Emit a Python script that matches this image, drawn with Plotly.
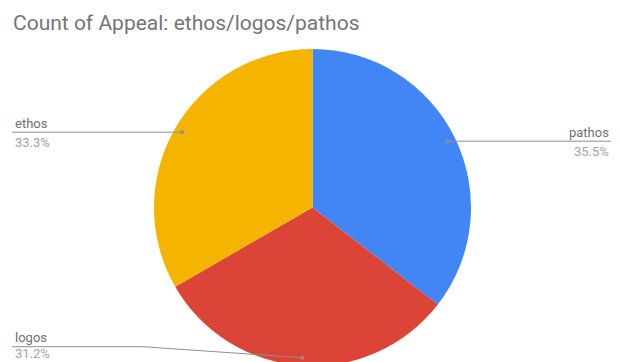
import math
import plotly.graph_objects as go

# ---- data ----
labels = ["pathos", "logos", "ethos"]
counts = [33, 29, 31]
colors = ["#4285F4", "#DB4437", "#F4B400"]
title_text = "Count of Appeal: ethos/logos/pathos"

# ---- layout constants (page pixels) ----
OFF = 8                      # default body margin of the html page
W, H = 619 - OFF, 366 - OFF  # figure size
PIE_TOP = 49
PIE_BOTTOM = 366
R = (PIE_BOTTOM - PIE_TOP) / 2
CX, CY = 312.5, PIE_TOP + R
DOT_FRAC = 0.95
LEFT_X, RIGHT_X = 12, 612
LOGOS_ROW_Y = 346.7
LOGOS_ELBOW_X = 143
LINE_COLOR = "#8f8f8f"
NAME_COLOR = "#6f6f6f"
PCT_COLOR = "#a3a3a3"
FONT = "Roboto"


def px(x, y):
    return (x - OFF) / W, 1 - (y - OFF) / H


total = sum(counts)
fig = go.Figure(go.Pie(
    labels=labels, values=counts, sort=False, direction="clockwise", rotation=0,
    marker=dict(colors=colors, line=dict(width=0)), textinfo="none",
    hoverinfo="label+percent", showlegend=False,
    domain=dict(x=[px(CX - R, 0)[0], px(CX + R, 0)[0]],
                y=[px(0, PIE_BOTTOM)[1], px(0, PIE_TOP)[1]]),
))

shapes, annotations = [], []
cum = 0
for name, v in zip(labels, counts):
    frac = v / total
    mid = (cum + frac / 2) * 2 * math.pi
    cum += frac
    dx = CX + DOT_FRAC * R * math.sin(mid)
    dy = CY - DOT_FRAC * R * math.cos(mid)
    pct = f"{frac * 100:.1f}%"
    d = px(dx, dy)
    if math.sin(mid) > 0:
        row_y = dy
        e = px(RIGHT_X, row_y)
        path = f"M {d[0]},{d[1]} L {e[0]},{e[1]}"
        tx, anchor = RIGHT_X - 1, "right"
    else:
        if math.cos(mid) < -0.9:  # bottom slice: elbowed leader line
            row_y = LOGOS_ROW_Y
            s, m = px(LEFT_X, row_y), px(LOGOS_ELBOW_X, row_y)
            path = f"M {s[0]},{s[1]} L {m[0]},{m[1]} L {d[0]},{d[1]}"
        else:
            row_y = dy
            s = px(LEFT_X, row_y)
            path = f"M {s[0]},{s[1]} L {d[0]},{d[1]}"
        tx, anchor = LEFT_X + 1, "left"
    shapes.append(dict(type="path", xref="paper", yref="paper", path=path,
                       line=dict(color=LINE_COLOR, width=1)))
    shapes.append(dict(type="circle", xref="paper", yref="paper",
                       xsizemode="pixel", ysizemode="pixel", xanchor=d[0], yanchor=d[1],
                       x0=-2, x1=2, y0=-2, y1=2,
                       fillcolor=LINE_COLOR, line=dict(width=0)))
    nx, ny = px(tx, row_y - 9)
    annotations.append(dict(x=nx, y=ny, xref="paper", yref="paper", text=name,
                            showarrow=False, xanchor=anchor, yanchor="middle",
                            font=dict(family=FONT, size=13, color=NAME_COLOR)))
    py_ = row_y + 10 if row_y + 10 < 353 else 353
    qx, qy = px(tx, py_)
    annotations.append(dict(x=qx, y=qy, xref="paper", yref="paper", text=pct,
                            showarrow=False, xanchor=anchor, yanchor="middle",
                            font=dict(family=FONT, size=13, color=PCT_COLOR)))

tx_, ty_ = px(11, 23)
annotations.append(dict(x=tx_, y=ty_, xref="paper", yref="paper", text=title_text,
                        showarrow=False, xanchor="left", yanchor="middle",
                        font=dict(family=FONT, size=21, color="#757575")))

fig.update_layout(
    width=W, height=H, margin=dict(l=0, r=0, t=0, b=0),
    paper_bgcolor="white", plot_bgcolor="white",
    shapes=shapes, annotations=annotations,
)
fig.write_html("out.html")
